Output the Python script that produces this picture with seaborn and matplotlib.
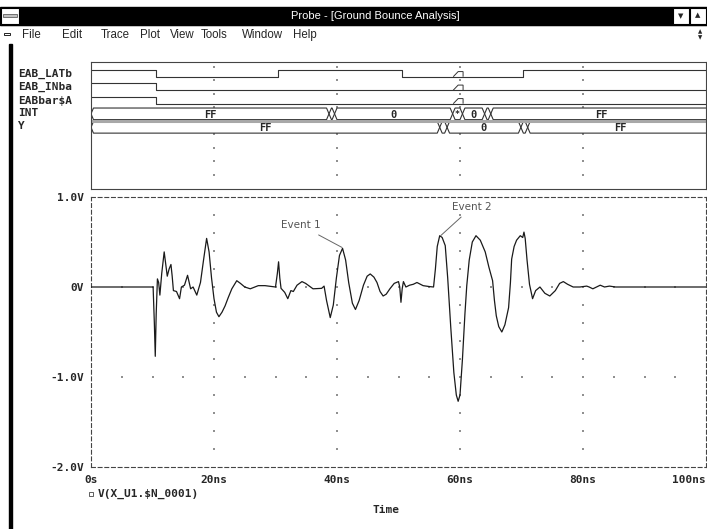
import numpy as np
import matplotlib
matplotlib.use("Agg")
import matplotlib.pyplot as plt
import seaborn as sns
from matplotlib.patches import Rectangle, Polygon

# waveform V(X_U1.$N_0001) (ns, V)
time_ns = [0, 10.1, 10.3, 10.45, 10.6, 10.8, 11.0, 11.2, 11.5, 11.9, 12.1, 12.4, 12.7, 13.0,
           13.2, 13.4, 13.9, 14.4, 14.7, 15.2, 15.7, 16.2, 16.6, 17.2, 17.8, 18.3, 18.8,
           19.2, 19.6, 20.0, 20.4, 20.8, 21.3, 21.8, 22.3, 22.9, 23.7, 24.3, 25.0, 25.9,
           27.2, 28.3, 30.0, 30.3, 30.5, 30.7, 30.9, 31.5, 32.0, 32.5, 32.9, 33.5, 34.3,
           34.9, 35.5, 36.1, 37.5, 37.9, 38.3, 38.9, 39.4, 39.9, 40.4, 40.9, 41.4, 41.9,
           42.5, 43.0, 43.6, 44.3, 44.9, 45.4, 46.0, 46.5, 47.0, 47.5, 48.0, 48.6, 49.3,
           50.0, 50.2, 50.4, 50.6, 50.8, 51.2, 51.8, 52.4, 53.0, 54.0, 55.0, 55.7, 56.0,
           56.3, 56.7, 57.1, 57.6, 58.0, 58.5, 59.0, 59.4, 59.7, 60.0, 60.4, 60.8, 61.1,
           61.5, 62.0, 62.6, 63.3, 64.1, 64.7, 65.3, 65.6, 65.9, 66.3, 66.8, 67.3, 67.9,
           68.2, 68.4, 68.8, 69.2, 69.8, 70.2, 70.4, 70.6, 70.9, 71.3, 71.8, 72.3, 73.0,
           73.8, 74.6, 75.5, 76.2, 76.8, 77.5, 78.4, 79.5, 80.6, 81.0, 81.6, 82.2, 82.8,
           83.5, 84.3, 85.3, 86.0, 100]
volts = [0, 0, -0.4, -0.77, -0.3, 0.09, 0.05, -0.09, 0.15, 0.39, 0.28, 0.12, 0.2, 0.25,
         0.12, -0.04, -0.05, -0.13, 0.0, 0.02, 0.13, -0.02, 0.0, -0.09, 0.05, 0.3, 0.54,
         0.39, 0.1, -0.13, -0.28, -0.33, -0.28, -0.21, -0.12, -0.02, 0.07, 0.04, 0.0, -0.02,
         0.015, 0.015, 0.0, 0.15, 0.28, 0.1, -0.015, -0.06, -0.13, -0.04, -0.05, 0.02, 0.06,
         0.04, 0.01, -0.02, -0.015, 0.01, -0.15, -0.34, -0.2, 0.1, 0.35, 0.43, 0.3, 0.05,
         -0.18, -0.25, -0.15, 0.02, 0.12, 0.145, 0.11, 0.05, -0.05, -0.10, -0.08, -0.02, 0.04,
         0.06, 0.0, -0.17, -0.02, 0.06, 0.0, 0.02, 0.03, 0.05, 0.015, 0.005, 0.0, 0.2,
         0.45, 0.57, 0.55, 0.46, 0.1, -0.45, -0.95, -1.2, -1.27, -1.2, -0.8, -0.3, 0.015,
         0.3, 0.5, 0.57, 0.52, 0.39, 0.22, 0.07, -0.15, -0.32, -0.44, -0.50, -0.42, -0.23,
         0.05, 0.31, 0.45, 0.52, 0.57, 0.55, 0.61, 0.54, 0.3, 0.03, -0.13, -0.04, 0.0,
         -0.07, -0.10, -0.04, 0.04, 0.06, 0.03, 0.0, 0.0, 0.01, 0.0, -0.02, 0.0, 0.02,
         0.0, 0.01, 0.0, 0.0, 0]

# digital signals: (time, level) edges
signal_names = ["EAB_LATb", "EAB_INba", "EABbar$A", "INT", "Y"]
latb_edges = [(0, 1), (10.5, 0), (30.4, 1), (50.5, 0), (70.3, 1)]
inba_edges = [(0, 1), (10.5, 0)]
eabbar_edges = [(0, 1), (10.5, 0)]
glitch_time = [58.9, 60.5]
# buses: segment boundaries and values
int_bounds = [0, 38.7, 39.6, 58.8, 60.4, 64.0, 65.0, 101]
int_values = ["FF", "", "0", "*", "0", "", "FF"]
y_bounds = [0, 56.7, 57.9, 69.9, 71.0, 101]
y_values = ["FF", "", "0", "", "FF"]

x_ticks = [0, 20, 40, 60, 80, 100]
x_labels = ["0s", "20ns", "40ns", "60ns", "80ns", "100ns"]
y_ticks = [-2, -1, 0, 1]
y_labels = ["-2.0V", "-1.0V", "0V", "1.0V"]

sns.set_style("white")
plt.rcParams['font.family'] = ['DejaVu Sans Mono', 'DejaVu Sans']

W, H = 707, 529
fig = plt.figure(figsize=(W / 100, H / 100), dpi=100)


def frac(x0, y0, x1, y1):
    return [x0 / W, 1 - y1 / H, (x1 - x0) / W, (y1 - y0) / H]


# window chrome, drawn in pixel units
bg = fig.add_axes([0, 0, 1, 1])
bg.set_xlim(0, W)
bg.set_ylim(H, 0)
bg.axis('off')
bg.add_patch(Rectangle((0, 7), W, 18, color='black'))
bg.add_patch(Rectangle((1, 8), 18, 16, facecolor='white', edgecolor='black', lw=0.8))
bg.add_patch(Rectangle((3, 14), 14, 3, facecolor='#c0c0c0', edgecolor='#606060', lw=0.6))
bg.add_patch(Rectangle((673, 8), 16, 16, facecolor='white', edgecolor='black', lw=0.8))
bg.add_patch(Rectangle((690, 8), 16, 16, facecolor='white', edgecolor='black', lw=0.8))
bg.text(681, 16.5, "▼", fontsize=5, ha='center', va='center', family='DejaVu Sans')
bg.text(698, 15.5, "▲", fontsize=5, ha='center', va='center', family='DejaVu Sans')
bg.text(375, 16, "Probe - [Ground Bounce Analysis]", color='white', fontsize=8,
        ha='center', va='center', family='Liberation Sans')
bg.plot([0, W], [25, 25], color='black', lw=0.8)
bg.add_patch(Rectangle((4, 33), 6, 2, facecolor='white', edgecolor='black', lw=0.6))
menu = ["File", "Edit", "Trace", "Plot", "View", "Tools", "Window", "Help"]
menu_x = [22, 62, 101, 140, 170, 201, 242, 293]
for m, mx in zip(menu, menu_x):
    bg.text(mx, 35, m, fontsize=8.3, ha='left', va='center', family='Liberation Sans')
bg.text(700, 32, "▲", fontsize=4, ha='center', va='center', family='DejaVu Sans')
bg.text(700, 38, "▼", fontsize=4, ha='center', va='center', family='DejaVu Sans')
bg.add_patch(Rectangle((9, 44), 3, H - 44, color='black'))

# digital pane
dax = fig.add_axes(frac(91, 62, 706, 189))
dax.set_xlim(0, 100)
dax.set_ylim(8.57, -0.84)
dax.set_xticks([])
dax.set_yticks([])
for s in dax.spines.values():
    s.set_color('#444444')
    s.set_linewidth(0.8)

for gx in [20, 40, 60, 80]:
    rows = np.arange(-0.5, 8.0, 1.0)
    dax.scatter([gx] * len(rows), rows, s=0.6, color='#909090', marker='s', lw=0)

for row, edges in enumerate([latb_edges, inba_edges, eabbar_edges]):
    ts = [e[0] for e in edges] + [100]
    lv = [row + 0.25 - 0.5 * e[1] for e in edges]
    lv = lv + [lv[-1]]
    dax.step(ts, lv, where='post', color='#333333', lw=0.8)
    low = row + 0.25
    top = low - 0.38
    dax.add_patch(Polygon([(glitch_time[0], low), (glitch_time[0] + 0.8, top),
                           (glitch_time[1], top), (glitch_time[1], low)],
                          closed=False, fill=False, edgecolor='#333333', lw=0.7))


def draw_bus(row, bounds, values, h=0.4, a=0.43):
    for t0, t1, val in zip(bounds[:-1], bounds[1:], values):
        pts = [(t0, row), (t0 + h, row - a), (t1 - h, row - a), (t1, row),
               (t1 - h, row + a), (t0 + h, row + a)]
        dax.add_patch(Polygon(pts, closed=True, fill=False, edgecolor='#333333', lw=0.8))
        if val:
            dax.text(min((t0 + t1) / 2, 99), row + 0.05, val, ha='center', va='center',
                     fontsize=7.5 if val != "*" else 6, fontweight='bold')


dax.axhline(3.5, color='#a8a8a8', lw=2.2)
draw_bus(3, int_bounds, int_values)
draw_bus(4, y_bounds, y_values)

label_y = [74, 87, 100.5, 113, 126]
for name, ly in zip(signal_names, label_y):
    bg.text(18, ly, name, fontsize=8, fontweight='bold', ha='left', va='center')

# analog plot
ax = fig.add_axes(frac(91, 197, 706, 467))
sns.lineplot(x=time_ns, y=volts, ax=ax, color='#1a1a1a', lw=0.9, estimator=None, zorder=3)
ax.set_xlim(0, 100)
ax.set_ylim(-2, 1)
for s in ax.spines.values():
    s.set_visible(True)
    s.set_color('#444444')
    s.set_linewidth(0.8)
    s.set_linestyle((0, (3.5, 2.5)))

for gx in [20, 40, 60, 80]:
    gy = np.arange(-1.8, 0.95, 0.2)
    ax.scatter([gx] * len(gy), gy, s=0.6, color='#909090', marker='s', lw=0, zorder=1)
for gyv in [0, -1]:
    gxs = np.arange(5, 100, 5)
    ax.scatter(gxs, [gyv] * len(gxs), s=0.6, color='#909090', marker='s', lw=0, zorder=1)

ax.set_xticks(x_ticks)
ax.set_xticklabels(x_labels, fontsize=8, fontweight='bold')
ax.get_xticklabels()[-1].set_horizontalalignment('right')
ax.set_yticks(y_ticks)
ax.set_yticklabels(y_labels, fontsize=8, fontweight='bold')
ax.tick_params(axis='x', direction='inout', length=5, width=0.8, color='#444444', pad=3)
ax.tick_params(axis='y', direction='out', length=3, width=0.8, color='#444444', pad=2)
ax.set_xlabel("")
ax.set_ylabel("")

ax.annotate("Event 1", xy=(40.8, 0.44), xytext=(34.1, 0.685), fontsize=7.5,
            family='DejaVu Sans', color='#555555', ha='center', va='center',
            arrowprops=dict(arrowstyle='-', color='#666666', lw=0.7, shrinkA=2, shrinkB=0))
ax.annotate("Event 2", xy=(56.9, 0.573), xytext=(62.0, 0.89), fontsize=7.5,
            family='DejaVu Sans', color='#555555', ha='center', va='center',
            arrowprops=dict(arrowstyle='-', color='#666666', lw=0.7, shrinkA=2, shrinkB=0))

bg.add_patch(Rectangle((89, 492), 4, 4, facecolor='white', edgecolor='#444444', lw=0.6))
bg.text(98, 494, "V(X_U1.$N_0001)", fontsize=8, fontweight='bold', ha='left', va='center')
bg.text(386, 510, "Time", fontsize=8, fontweight='bold', ha='center', va='center')

fig.savefig("out.png", dpi=100)
